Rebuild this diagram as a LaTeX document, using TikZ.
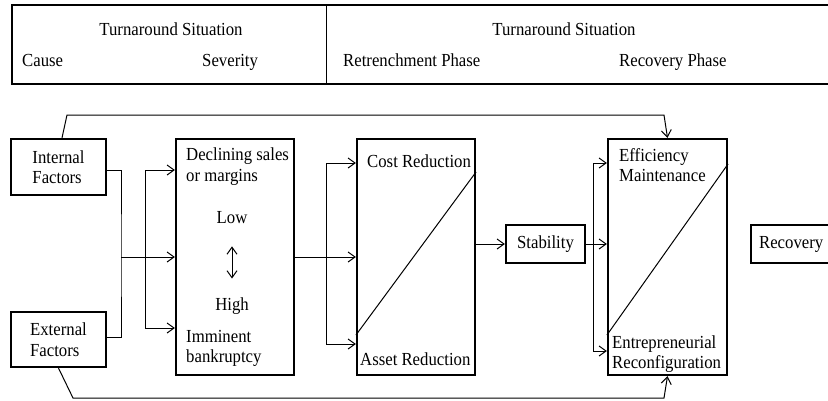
\documentclass[tikz,border=0pt]{standalone}
\usepackage{fontspec}
\setmainfont{Liberation Serif}[FakeStretch=0.91]
\usetikzlibrary{arrows.meta, positioning}

\begin{document}
\begin{tikzpicture}[x=1pt, y=-1pt,
    font=\fontsize{18.4}{20.5}\selectfont,
    box/.style={draw, line width=2.2pt, inner sep=0pt},
    link/.style={line width=1pt},
    arr/.style={link, -{Straight Barb[length=7pt, width=10pt]}},
    dbl/.style={link, {Straight Barb[length=7pt, width=10pt]}-{Straight Barb[length=7pt, width=10pt]}},
    lbl/.style={anchor=base west, inner sep=0pt}]

  \useasboundingbox (0,0) rectangle (828,400);

  % header table
  \draw[line width=2.6pt] (840,5) -- (12,5) -- (12,84) -- (840,84);
  \draw[link] (326,5) -- (326,84);
  \node[anchor=base, inner sep=0pt] (sit1) at (171,35) {Turnaround Situation};
  \node[anchor=base, inner sep=0pt] (sit2) at (564,35) {Turnaround Situation};
  \node[lbl] (cause) at (22,66) {Cause};
  \node[lbl] (severity) at (202,66) {Severity};
  \node[lbl] (retrph) at (343,66) {Retrenchment Phase};
  \node[lbl] (recph) at (619,66) {Recovery Phase};

  % boxes
  \node[box, minimum width=95pt, minimum height=56pt, align=left] (intf) at (58.5,167) {Internal\\Factors};
  \node[box, minimum width=95pt, minimum height=55pt, align=left] (extf) at (58.5,339.5) {External\\Factors};
  \node[box, minimum width=118pt, minimum height=236pt] (sever) at (235,257) {};
  \node[box, minimum width=118pt, minimum height=236pt] (retr) at (416,257) {};
  \node[box, minimum width=79pt, minimum height=38pt] (stab) at (545.5,244) {Stability};
  \node[box, minimum width=119pt, minimum height=236pt] (recp) at (667.5,257) {};
  \node[box, minimum height=38pt, inner xsep=8pt, anchor=west] (recov) at (750,244) {Recovery};

  % texts in the boxes
  \node[lbl] (dec1) at (186,160) {Declining sales};
  \node[lbl] (dec2) at (186,181) {or margins};
  \node[anchor=base, inner sep=0pt] (low) at (232,223) {Low};
  \node[anchor=base, inner sep=0pt] (high) at (232,310) {High};
  \node[lbl] (imm1) at (186,342) {Imminent};
  \node[lbl] (imm2) at (186,362) {bankruptcy};
  \node[lbl] (cost) at (367,167) {Cost Reduction};
  \node[lbl] (asset) at (360,365) {Asset Reduction};
  \node[lbl] (eff1) at (619,161) {Efficiency};
  \node[lbl] (eff2) at (619,181) {Maintenance};
  \node[lbl] (ent1) at (612,348) {Entrepreneurial};
  \node[lbl] (ent2) at (612,368) {Reconfiguration};
  \draw[dbl, shorten <=23pt, shorten >=18.5pt] (low.south) -- (high.north);

  % diagonals
  \draw[link] ([yshift=41pt]retr.south west) -- ([yshift=-34pt]retr.north east);
  \draw[link] ([yshift=41pt]recp.south west) -- ([yshift=-26pt]recp.north east);

  % connectors
  \coordinate (j1) at (121,257);
  \draw[link] ([yshift=-3pt]intf.east) -| (j1) |- ([yshift=2pt]extf.east);
  \draw[arr] (j1) -- (sever.west);
  \coordinate (j2) at (145,257);
  \draw[arr] (j2) |- ([yshift=87pt]sever.west);
  \draw[arr] (j2) |- ([yshift=-71pt]sever.west);

  \coordinate (j3) at (326,257);
  \draw[arr] (sever.east) -- (retr.west);
  \draw[arr] (j3) |- ([yshift=94pt]retr.west);
  \draw[arr] (j3) |- ([yshift=-87pt]retr.west);
  \draw[arr] (retr.east |- stab.west) -- (stab.west);

  \coordinate (j4) at (593,244);
  \draw[arr] (stab.east) -- (recp.west |- stab.east);
  \draw[arr] (j4) |- ([yshift=94pt]recp.west);
  \draw[arr] (j4) |- ([yshift=-94pt]recp.west);

  % feedback lines
  \draw[arr] ([xshift=3.5pt]intf.north) -- (67,115) -- (664,115) -- (recp.north);
  \draw[arr] (extf.south) -- (73,398) -- (664,398) -- (recp.south);
\end{tikzpicture}
\end{document}
